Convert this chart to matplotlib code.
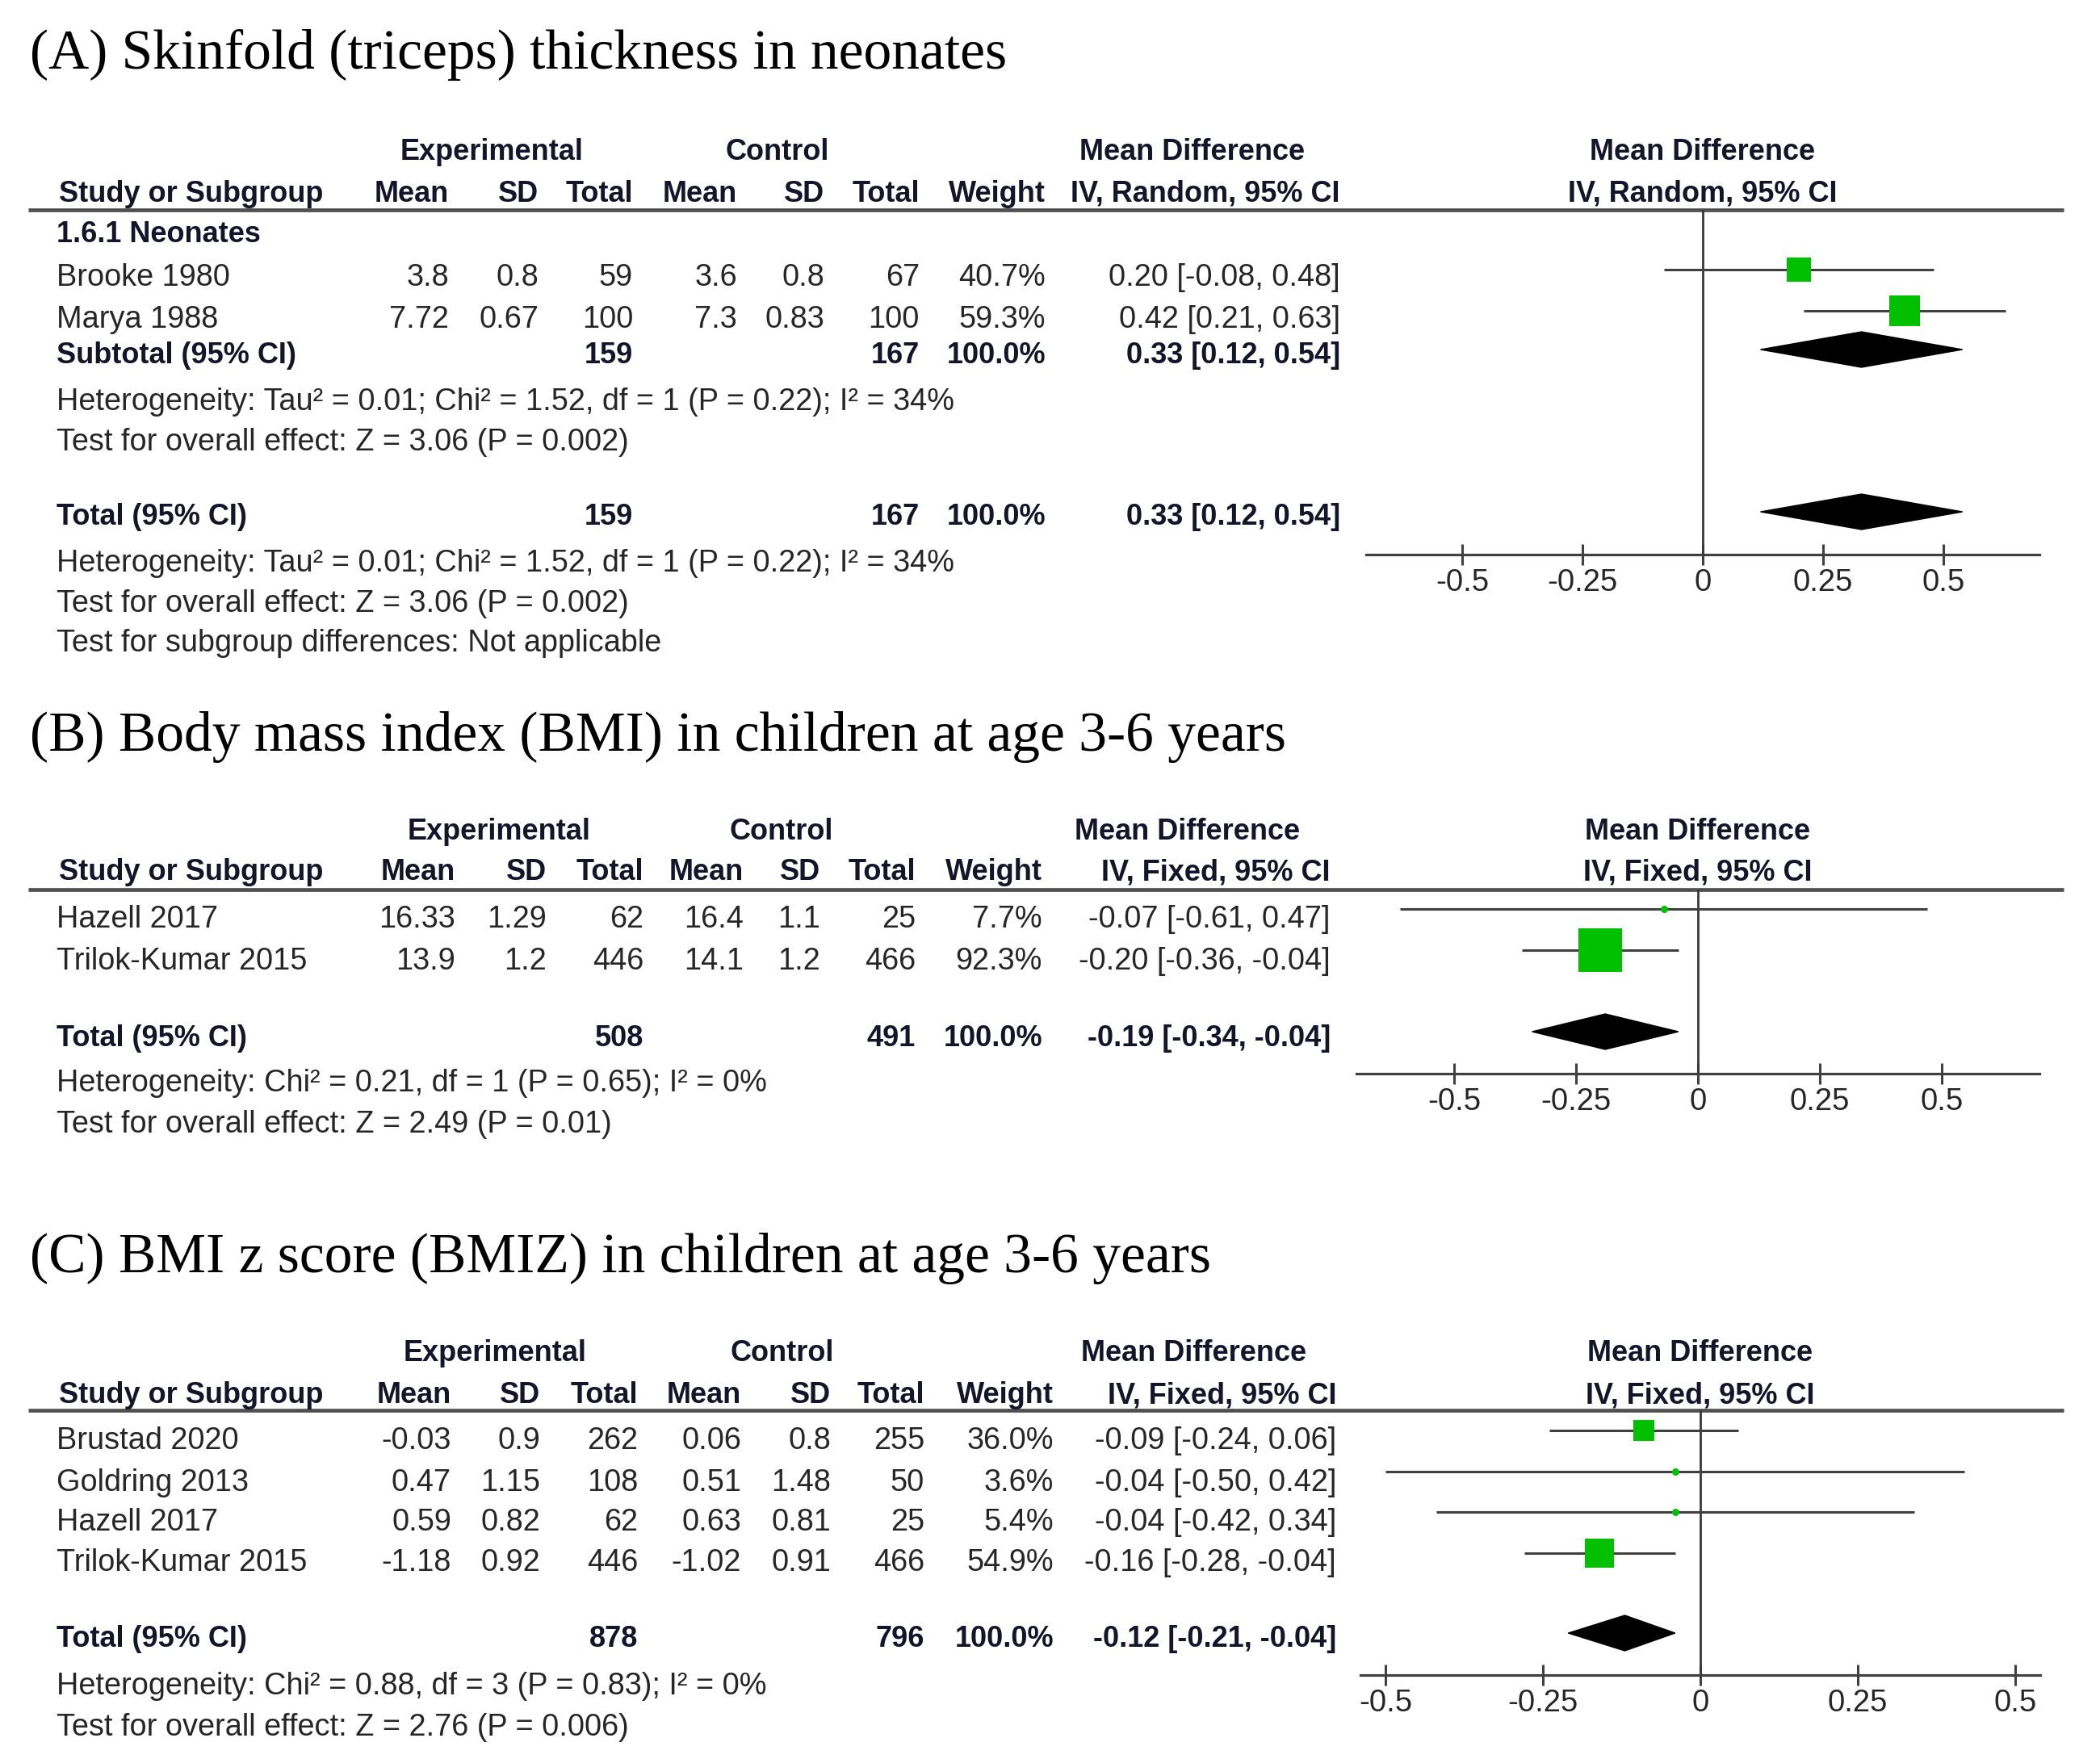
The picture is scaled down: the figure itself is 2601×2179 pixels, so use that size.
import matplotlib
matplotlib.use('Agg')
import matplotlib.pyplot as plt
from matplotlib.patches import Polygon

W, H = 2601, 2179
DPI = 100
PX = DPI / 72  # pixels per point

# ---------------- data ----------------
ticks = [-0.5, -0.25, 0, 0.25, 0.5]
tick_labels = ['-0.5', '-0.25', '0', '0.25', '0.5']

# (A) skinfold
a_title = '(A) Skinfold (triceps) thickness in neonates'
a_method = 'IV, Random, 95% CI'
a_subgroup = '1.6.1 Neonates'
a_studies = ['Brooke 1980', 'Marya 1988']
a_exp_mean = [3.8, 7.72]
a_exp_sd = [0.8, 0.67]
a_exp_n = [59, 100]
a_ctl_mean = [3.6, 7.3]
a_ctl_sd = [0.8, 0.83]
a_ctl_n = [67, 100]
a_weight = [40.7, 59.3]
a_md = [0.20, 0.42]
a_lo = [-0.08, 0.21]
a_hi = [0.48, 0.63]
a_pooled = [0.33, 0.12, 0.54]
a_tot_n = [159, 167]
a_het = 'Heterogeneity: Tau² = 0.01; Chi² = 1.52, df = 1 (P = 0.22); I² = 34%'
a_test = 'Test for overall effect: Z = 3.06 (P = 0.002)'
a_subtest = 'Test for subgroup differences: Not applicable'

# (B) BMI
b_title = '(B) Body mass index (BMI) in children at age 3-6 years'
b_method = 'IV, Fixed, 95% CI'
b_studies = ['Hazell 2017', 'Trilok-Kumar 2015']
b_exp_mean = [16.33, 13.9]
b_exp_sd = [1.29, 1.2]
b_exp_n = [62, 446]
b_ctl_mean = [16.4, 14.1]
b_ctl_sd = [1.1, 1.2]
b_ctl_n = [25, 466]
b_weight = [7.7, 92.3]
b_md = [-0.07, -0.20]
b_lo = [-0.61, -0.36]
b_hi = [0.47, -0.04]
b_pooled = [-0.19, -0.34, -0.04]
b_tot_n = [508, 491]
b_het = 'Heterogeneity: Chi² = 0.21, df = 1 (P = 0.65); I² = 0%'
b_test = 'Test for overall effect: Z = 2.49 (P = 0.01)'

# (C) BMIZ
c_title = '(C) BMI z score (BMIZ) in children at age 3-6 years'
c_method = 'IV, Fixed, 95% CI'
c_studies = ['Brustad 2020', 'Goldring 2013', 'Hazell 2017', 'Trilok-Kumar 2015']
c_exp_mean = [-0.03, 0.47, 0.59, -1.18]
c_exp_sd = [0.9, 1.15, 0.82, 0.92]
c_exp_n = [262, 108, 62, 446]
c_ctl_mean = [0.06, 0.51, 0.63, -1.02]
c_ctl_sd = [0.8, 1.48, 0.81, 0.91]
c_ctl_n = [255, 50, 25, 466]
c_weight = [36.0, 3.6, 5.4, 54.9]
c_md = [-0.09, -0.04, -0.04, -0.16]
c_lo = [-0.24, -0.50, -0.42, -0.28]
c_hi = [0.06, 0.42, 0.34, -0.04]
c_pooled = [-0.12, -0.21, -0.04]
c_tot_n = [878, 796]
c_het = 'Heterogeneity: Chi² = 0.88, df = 3 (P = 0.83); I² = 0%'
c_test = 'Test for overall effect: Z = 2.76 (P = 0.006)'

# ---------------- style ----------------
SANS = 'Liberation Sans'
SERIF = 'Liberation Serif'
FS = 27.3      # regular table text
FSB = 26       # bold table text
TXT = '#262626'
BOLD = '#14142a'
GREEN = '#00c000'
LINE = '#404040'

fig = plt.figure(figsize=(W / DPI, H / DPI), dpi=DPI)
canvas = fig.add_axes([0, 0, 1, 1])
canvas.set_xlim(0, W)
canvas.set_ylim(H, 0)
canvas.axis('off')


def txt(x, y, s, ha='left', bold=False):
    canvas.text(x, y + 4, s, ha=ha, va='center', family=SANS,
                fontsize=FSB if bold else FS,
                fontweight='bold' if bold else 'normal',
                color=BOLD if bold else TXT)


def fmt_ci(m, lo, hi):
    return f'{m:.2f} [{lo:.2f}, {hi:.2f}]'


def header(cols, ys, title, method, zero_x):
    canvas.text(37, ys['title'] + 5, title, ha='left', va='center', fontsize=50,
                family=SERIF, color='black')
    y1, y2 = ys['h1'], ys['h2']
    txt(cols['exp_c'], y1, 'Experimental', 'center', True)
    txt(cols['ctl_c'], y1, 'Control', 'center', True)
    txt(cols['md_c'], y1, 'Mean Difference', 'center', True)
    txt(zero_x, y1, 'Mean Difference', 'center', True)
    txt(73, y2, 'Study or Subgroup', 'left', True)
    for key, lab in [('em', 'Mean'), ('es', 'SD'), ('en', 'Total'),
                     ('cm', 'Mean'), ('cs', 'SD'), ('cn', 'Total'),
                     ('w', 'Weight'), ('md', method)]:
        txt(cols[key], y2, lab, 'right', True)
    txt(zero_x, y2, method, 'center', True)
    canvas.plot([35, 2556], [ys['line'], ys['line']], color='#505050', lw=3.4,
                solid_capstyle='butt')


def study_rows(cols, ys, studies, em, es, en, cm, cs, cn, w, md, lo, hi):
    for i, y in enumerate(ys):
        txt(70, y, studies[i])
        txt(cols['em'], y, f'{em[i]:g}', 'right')
        txt(cols['es'], y, f'{es[i]:g}', 'right')
        txt(cols['en'], y, f'{en[i]}', 'right')
        txt(cols['cm'], y, f'{cm[i]:g}', 'right')
        txt(cols['cs'], y, f'{cs[i]:g}', 'right')
        txt(cols['cn'], y, f'{cn[i]}', 'right')
        txt(cols['w'], y, f'{w[i]:.1f}%', 'right')
        txt(cols['md'], y, fmt_ci(md[i], lo[i], hi[i]), 'right')


def total_row(cols, y, label, tot_n, pooled):
    txt(70, y, label, 'left', True)
    txt(cols['en'], y, f'{tot_n[0]}', 'right', True)
    txt(cols['cn'], y, f'{tot_n[1]}', 'right', True)
    txt(cols['w'], y, '100.0%', 'right', True)
    txt(cols['md'], y, fmt_ci(*pooled), 'right', True)


def forest(x0, x1, ytop, ybot, xlim, ys, md, lo, hi, w, diamonds):
    ax = fig.add_axes([x0 / W, 1 - ybot / H, (x1 - x0) / W, (ybot - ytop) / H])
    ax.set_xlim(*xlim)
    ax.set_ylim(ybot, ytop)
    ax.patch.set_visible(False)
    for s in ['top', 'left', 'right']:
        ax.spines[s].set_visible(False)
    ax.spines['bottom'].set_color(LINE)
    ax.spines['bottom'].set_linewidth(2.3)
    ax.set_yticks([])
    ax.set_xticks(ticks)
    ax.set_xticklabels(tick_labels, fontsize=27.5, family=SANS, color=TXT)
    ax.tick_params(axis='x', direction='inout', length=19, width=2.2,
                   color=LINE, pad=3)
    ax.axvline(0, color='#383838', lw=2.0)
    for i, y in enumerate(ys):
        ax.plot([lo[i], hi[i]], [y, y], color=LINE, lw=2.2, zorder=2,
                solid_capstyle='butt')
        side = max(9.0, 1.8 * w[i] ** 0.75)
        mk = 'o' if side < 12 else 's'
        ax.plot(md[i], y, marker=mk, ms=side / PX, color=GREEN, mec=GREEN,
                mew=0, zorder=3, clip_on=False)
    for y, (m, l, h) in diamonds:
        ax.add_patch(Polygon([(l, y), (m, y - 22), (h, y), (m, y + 22)],
                             closed=True, color='black', zorder=3))
    return ax


# ---------------- panel A ----------------
cols_a = dict(em=556, es=667, en=784, cm=913, cs=1021, cn=1139, w=1295,
              md=1660, exp_c=609, ctl_c=963, md_c=1477)
header(cols_a, dict(title=63, h1=184, h2=236, line=260), a_title, a_method, 2109)
txt(70, 286, a_subgroup, 'left', True)
study_rows(cols_a, [340, 392], a_studies, a_exp_mean, a_exp_sd, a_exp_n,
           a_ctl_mean, a_ctl_sd, a_ctl_n, a_weight, a_md, a_lo, a_hi)
total_row(cols_a, 436, 'Subtotal (95% CI)', a_tot_n, a_pooled)
txt(70, 494, a_het)
txt(70, 544, a_test)
total_row(cols_a, 637, 'Total (95% CI)', a_tot_n, a_pooled)
txt(70, 694, a_het)
txt(70, 744, a_test)
txt(70, 793, a_subtest)
forest(1692, 2526, 260, 687, (-0.7, 0.7), [334, 385], a_md, a_lo, a_hi,
       a_weight, [(433, a_pooled), (634, a_pooled)])

# ---------------- panel B ----------------
cols_b = dict(em=564, es=677, en=797, cm=921, cs=1016, cn=1134, w=1291,
              md=1648, exp_c=618, ctl_c=968, md_c=1471)
header(cols_b, dict(title=908, h1=1026, h2=1077, line=1102), b_title, b_method, 2103)
study_rows(cols_b, [1135, 1187], b_studies, b_exp_mean, b_exp_sd, b_exp_n,
           b_ctl_mean, b_ctl_sd, b_ctl_n, b_weight, b_md, b_lo, b_hi)
total_row(cols_b, 1282, 'Total (95% CI)', b_tot_n, b_pooled)
txt(70, 1338, b_het)
txt(70, 1389, b_test)
forest(1680, 2526, 1102, 1330, (-0.7, 0.7), [1126, 1177], b_md, b_lo, b_hi,
       b_weight, [(1278, b_pooled)])

# ---------------- panel C ----------------
cols_c = dict(em=559, es=669, en=790, cm=918, cs=1029, cn=1145, w=1305,
              md=1655, exp_c=613, ctl_c=969, md_c=1479)
header(cols_c, dict(title=1554, h1=1673, h2=1725, line=1747), c_title, c_method, 2106)
study_rows(cols_c, [1781, 1833, 1882, 1932], c_studies, c_exp_mean, c_exp_sd,
           c_exp_n, c_ctl_mean, c_ctl_sd, c_ctl_n, c_weight, c_md, c_lo, c_hi)
total_row(cols_c, 2027, 'Total (95% CI)', c_tot_n, c_pooled)
txt(70, 2085, c_het)
txt(70, 2136, c_test)
forest(1685, 2527, 1747, 2075, (-0.54, 0.54), [1772, 1823, 1873, 1924],
       c_md, c_lo, c_hi, c_weight, [(2023, c_pooled)])

fig.savefig('out.png', dpi=DPI, facecolor='white')
